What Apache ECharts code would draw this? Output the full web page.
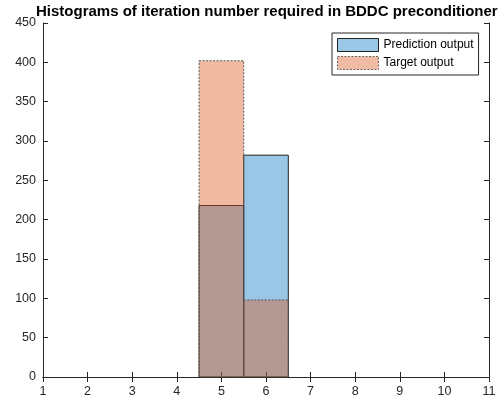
<!DOCTYPE html>
<html>
<head>
<meta charset="utf-8">
<script src="https://cdn.jsdelivr.net/npm/echarts@6/dist/echarts.min.js"></script>
<style>html,body{margin:0;padding:0;background:#fff;}#c{width:501px;height:402px;}</style>
</head>
<body>
<div id="c"></div>
<script>
const titleText = 'Histograms of iteration number required in BDDC preconditioner';
const binEdges = [4.5, 5.5, 6.5];
const predictionCounts = [218, 282];
const targetCounts = [402, 98];
const seriesNames = ['Prediction output', 'Target output'];
const xRange = [1, 11];
const yRange = [0, 450];

function toBins(counts) {
  return counts.map((c, i) => [binEdges[i], binEdges[i + 1], c]);
}

const FONT = 'Liberation Sans, Arial, Helvetica, sans-serif';
const AX = '#262626';
const blueFill = 'rgba(0,114,189,0.4)';
const orangeFill = 'rgba(217,83,25,0.4)';

function makeRender(fill, stroke, dash) {
  return function (params, api) {
    const p0 = api.coord([api.value(0), 0]);
    const p1 = api.coord([api.value(1), api.value(2)]);
    return {
      type: 'rect',
      shape: { x: p0[0], y: p1[1], width: p1[0] - p0[0], height: p0[1] - p1[1] },
      style: { fill: fill, stroke: stroke, lineWidth: 1, lineDash: dash }
    };
  };
}

const chart = echarts.init(document.getElementById('c'), null, { renderer: 'canvas' });
const axisCommon = {
  axisLine: { show: true, lineStyle: { color: AX, width: 1 } },
  axisTick: { show: true, inside: true, length: 5, lineStyle: { color: AX } },
  splitLine: { show: false }
};
chart.setOption({
  animation: false,
  backgroundColor: '#fff',
  title: {
    text: titleText,
    left: 36, top: 4, padding: 0,
    textStyle: { fontFamily: FONT, fontSize: 15, fontWeight: 'bold', color: '#000' }
  },
  legend: {
    left: 332, top: 33, orient: 'vertical',
    padding: [5, 5, 5, 5], itemGap: 4, itemWidth: 41, itemHeight: 13,
    backgroundColor: '#fff', borderColor: AX, borderWidth: 1, borderRadius: 0,
    textStyle: { fontFamily: FONT, fontSize: 12, color: '#000' },
    data: [
      { name: seriesNames[0], icon: 'rect', itemStyle: { color: blueFill, borderColor: '#222', borderWidth: 1 } },
      { name: seriesNames[1], icon: 'rect', itemStyle: { color: orangeFill, borderColor: '#666', borderWidth: 1, borderType: [2, 1.5] } }
    ]
  },
  grid: { left: 43, right: 12, top: 23, bottom: 25, containLabel: false },
  xAxis: [
    Object.assign({ type: 'value', min: xRange[0], max: xRange[1], interval: 1, position: 'bottom',
      axisLabel: { fontFamily: FONT, fontSize: 12.5, color: AX, margin: 8 } }, axisCommon),
    Object.assign({ type: 'value', min: xRange[0], max: xRange[1], interval: 1, position: 'top',
      axisLabel: { show: false } }, axisCommon)
  ],
  yAxis: [
    Object.assign({ type: 'value', min: yRange[0], max: yRange[1], interval: 50, position: 'left',
      axisLabel: { fontFamily: FONT, fontSize: 12.5, color: AX, margin: 7 } }, axisCommon),
    Object.assign({ type: 'value', min: yRange[0], max: yRange[1], interval: 50, position: 'right',
      axisLabel: { show: false } }, axisCommon)
  ],
  series: [
    {
      name: seriesNames[0], type: 'custom', xAxisIndex: 0, yAxisIndex: 0,
      itemStyle: { color: blueFill },
      renderItem: makeRender(blueFill, '#222', null),
      encode: { x: [0, 1], y: 2 },
      data: toBins(predictionCounts), z: 2
    },
    {
      name: seriesNames[1], type: 'custom', xAxisIndex: 0, yAxisIndex: 0,
      itemStyle: { color: orangeFill },
      renderItem: makeRender(orangeFill, '#555', [2, 1.5]),
      encode: { x: [0, 1], y: 2 },
      data: toBins(targetCounts), z: 3
    }
  ]
});
</script>
</body>
</html>
